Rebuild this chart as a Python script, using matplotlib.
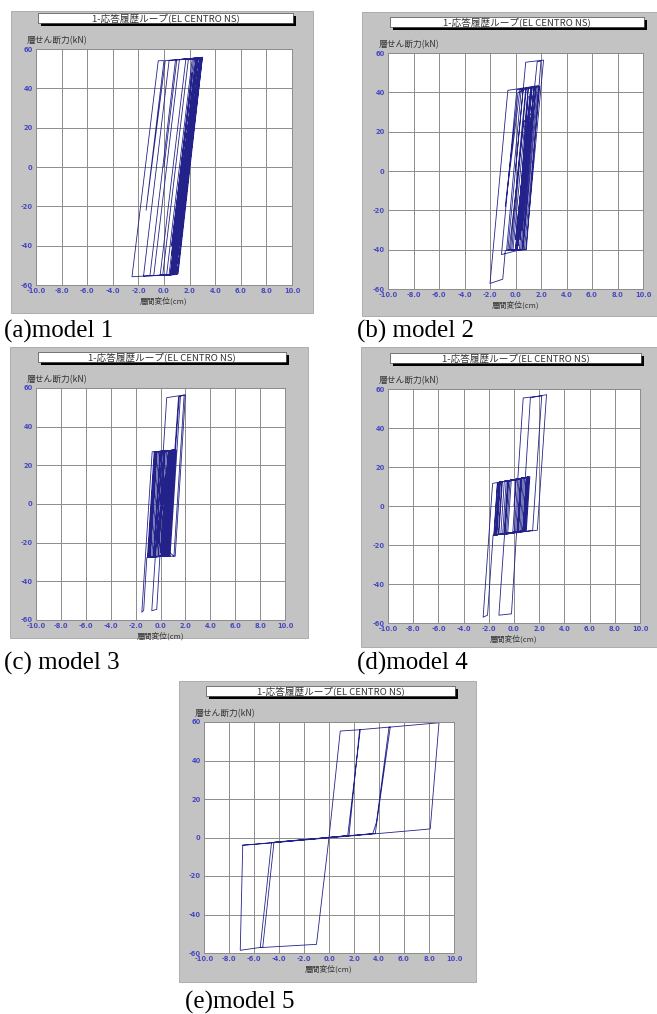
import numpy as np
import matplotlib
matplotlib.use("Agg")
import matplotlib.pyplot as plt
from matplotlib.patches import Rectangle

# ---- data: hysteresis loop turning points (displacement cm, shear kN) ----
# model 1
x1 = [0.0, 1.0, 3.0, 1.0, -2.5, -0.45, 0.0, -1.4, 0.1, 2.8, 0.8, -1.6, 0.4, 2.6, 0.6, -1.1,
      0.9, 2.9, 0.9, -0.3, 1.7, 2.7, 0.7, 0.2, 2.2, 2.5, 0.5, -0.8, 1.2, 3.0, 1.1, 0.6,
      2.6, 2.9, 0.9, 0.5, 2.5, 2.8, 0.8, 2.4, 1.0, 2.7, 1.3, 2.85, 0.7, -0.1, 1.9, 2.3,
      0.6, 2.2, 0.6, 2.5, 1.2, 2.8, 0.9, 2.6, 1.0, 2.9, 1.1, 2.4, 1.7, 2.75, 0.95, 2.3,
      0.8, 0.4, 2.4, 2.65, 0.65, 2.1, 1.3, 2.55, 0.85, 2.45, 1.15, 2.95, 1.05]
y1 = [0.0, 54.5, 55.8, -54.5, -55.8, 54.0, 54.1, -22.0, 54.1, 55.5, -54.8, -55.5, 54.2, 55.2, -54.8, -55.3,
      54.5, 55.6, -54.6, -55.0, 54.5, 55.4, -54.7, -55.0, 54.6, 55.0, -54.8, -55.2, 54.5, 55.7, -54.3, -54.6,
      55.0, 55.5, -54.5, -54.7, 55.0, 55.4, -54.6, 35.0, -42.0, 48.0, -38.0, 50.0, -54.6, -55.0, 54.5, 54.8,
      -40.0, 48.0, -45.0, 52.0, -30.0, 55.5, -54.5, 45.0, -45.0, 54.8, -52.0, 30.0, -10.0, 50.0, -50.0, 30.0,
      -54.0, -54.5, 54.9, 55.1, -54.6, 20.0, -25.0, 52.0, -40.0, 45.0, -35.0, 55.4, -54.4]

# model 2
x2 = [0.0, 0.6, 0.8, 2.2, 0.8, -0.8, -1.0, -2.0, -0.6, 1.8, 0.6, -0.4, 0.8, 1.5, 1.7, 2.0,
      0.85, -0.2, 1.0, 1.6, 0.5, -1.1, 0.1, 1.2, 0.0, -0.6, 0.6, 1.6, 0.4, 0.0, 1.2, 1.9,
      0.7, 0.3, 1.45, 0.6, 1.3, 0.35, 1.1, 0.2, 1.4, 0.5, 1.5, 0.35, -0.8, 0.2, 1.0, 0.1,
      1.3, 0.15, -0.7, 0.45, 1.7, 0.55, -0.3, 0.85, 1.25, 0.1, -0.5, 0.65, 1.35, 0.2, 0.9,
      0.0, 1.15, 0.3, 1.0, 0.05]
y2 = [0.0, 41.0, 55.3, 56.4, -40.0, -40.5, -55.0, -57.2, 41.0, 43.4, -40.0, -40.3, 42.0, 42.8, 55.5, 56.0,
      -40.0, -40.2, 42.3, 43.0, -39.8, -42.5, 41.2, 42.5, -39.9, -40.2, 41.8, 42.8, -40.0, -40.1, 42.3, 43.0,
      -39.8, -40.0, 42.5, -20.0, 30.0, -35.0, 25.0, -38.0, 40.0, -30.0, 42.6, 41.5, -18.0, 40.0, 42.0, -39.0,
      42.4, -40.0, -40.3, 41.6, 43.1, -39.9, -40.2, 42.0, 42.4, -40.0, -40.2, 25.0, 30.0, -38.0, 20.0,
      -35.0, 35.0, -25.0, 38.0, -39.5]

# model 3
x3 = [0.0, 0.27, 1.2, 0.66, -1.0, -0.46, 0.9, 0.36, -0.8, -0.26, 1.0, 0.46, -0.6, -0.06, 0.7, 0.16,
      -1.1, -1.35, -1.5, -0.67, 0.4, -0.14, -0.9, -0.36, 0.8, 0.26, -0.05, -0.3, -0.7, 0.13, 0.22, 0.5,
      2.0, 1.18, 0.2, 0.74, 1.2, 1.5, 1.6, 0.77, -0.5, 0.04, 1.1, 0.56, -0.7, -0.16, 0.6, 0.06,
      -0.95, -0.41, 0.95, 0.41, -0.3, 0.24, 1.15, 0.61, -0.2, 0.34, 0.85, 0.31, -0.55, -0.01, 1.05, 0.51,
      -0.85, -0.31, 0.5, -0.04, -1.05, -0.51, 0.65, 0.11, -0.4, 0.14, 1.25, 0.71, 0.3, 0.84, 1.15, 1.45,
      1.9, 1.08, -0.2, 0.3, -0.3, 0.4, -0.25, 0.55, 0.0, 0.75, 0.2, 1.0, 0.46]
y3 = [0.0, 27.0, 28.0, -27.0, -27.5, 27.0, 27.8, -27.0, -27.3, 27.0, 27.9, -27.0, -27.2, 27.0, 27.6, -27.0,
      -27.8, -55.0, -56.0, 27.0, 27.5, -27.0, -27.4, 27.0, 27.7, -27.0, -27.1, -54.5, -55.2, 27.0, 27.1, 55.0,
      56.5, -27.0, -27.0, 27.0, 27.8, 55.5, 55.7, -27.0, -27.3, 27.0, 27.9, -27.0, -27.4, 27.0, 27.5, -27.0,
      -27.5, 27.0, 27.8, -27.0, -27.2, 27.0, 28.0, -27.0, -27.1, 27.0, 27.7, -27.0, -27.3, 27.0, 27.9, -27.0,
      -27.4, 27.0, 27.5, -27.0, -27.6, 27.0, 27.6, -27.0, -27.2, 27.0, 28.0, -27.0, -27.0, 27.0, 27.9, 55.4,
      56.3, -27.0, -20.0, 10.0, -18.0, 15.0, -22.0, 20.0, -25.0, 22.0, -24.0, 26.0, -27.0]

# model 4
x4 = [0.0, 0.15, 1.26, 0.98, -1.6, -1.32, 1.05, 0.77, -1.25, -0.97, 0.85, 0.57, -1.66, -2.1, -2.45, -1.7,
      0.3, 0.73, 2.2, 1.48, -0.5, -0.22, 1.2, 0.92, 0.2, -0.2, -1.2, -0.45, 0.9, 1.3, 2.58, 1.85,
      -1.4, -1.12, 0.6, 0.32, -0.9, -0.62, 0.4, 0.12, -1.5, -1.22, 1.1, 0.82, -0.7, -0.42, 0.5, 0.22,
      -1.05, -0.77, 0.75, 0.47, -1.35, -1.07, 0.95, 0.67, -0.6, -0.32, 1.15, 0.87, -1.58, -1.3, 0.3,
      0.02, -0.8, -0.52, 0.65, 0.37, -1.2, -0.92, 1.0, 0.72, -0.1, 0.18, 0.55, 0.27, -1.45, -1.17, 0.1]
y4 = [0.0, 13.7, 15.0, -12.5, -15.0, 12.0, 14.8, -12.7, -14.6, 12.4, 14.5, -12.9, -15.0, -56.0, -57.0, 11.6,
      13.8, 55.4, 56.5, -12.5, -14.3, 12.9, 14.9, -12.6, -13.8, -55.3, -56.0, 13.0, 14.6, 55.5, 57.1, -12.4,
      -14.8, 12.2, 14.2, -13.1, -14.4, 12.7, 13.9, -13.3, -14.9, 12.1, 14.8, -12.6, -14.5, 12.8, 14.0, -13.2,
      -14.6, 12.5, 14.3, -13.0, -14.8, 12.3, 14.6, -12.8, -14.4, 12.9, 14.9, -12.6, -15.0, 12.0, 13.8,
      -13.4, -14.5, 12.7, 14.2, -13.1, -14.7, 12.4, 14.7, -12.7, -13.9, 13.3, 14.1, -13.2, -14.8, 12.2, 13.6]

# model 5
x5 = [0.0, 0.9, 2.5, 1.5, 0.0, -1.0, -5.5, -4.6, 1.6, 2.45, 4.9, 3.7, -4.4, -5.3, -5.6, -7.1,
      -6.9, 3.5, 3.8, 4.8, 8.8, 8.1, 7.7, -6.0, -6.9]
y5 = [0.0, 55.3, 56.0, 1.0, 0.0, -55.5, -57.2, -2.7, 1.0, 56.0, 57.4, 2.1, -2.4, -57.0, -57.2, -58.6,
      -4.0, 2.0, 8.0, 57.3, 59.6, 4.5, 4.2, -3.6, -4.0]

x_ticks = [-10.0, -8.0, -6.0, -4.0, -2.0, 0.0, 2.0, 4.0, 6.0, 8.0, 10.0]
y_ticks = [-60, -40, -20, 0, 20, 40, 60]

captions = ["(a)model 1", "(b) model 2", "(c) model 3", "(d)model 4", "(e)model 5"]
chart_title = "1-応答履歴ループ(EL CENTRO NS)"
ylab = "層せん断力(kN)"
xlab = "層間変位(cm)"

W, H = 657, 1014
jp = ["Noto Sans CJK JP", "DejaVu Sans"]


def fx(x):
    return x / W


def fy(y):
    return 1 - y / H


def box(x0, y0, x1, y1, **kw):
    r = Rectangle((fx(x0), fy(y1)), (x1 - x0) / W, (y1 - y0) / H, **kw)
    fig.add_artist(r)


def draw_panel(gray, axbox, xs, ys, caption, cap_xy):
    box(*gray, facecolor="#c3c3c3", edgecolor="#a5a5a5", lw=0.6, zorder=-5)
    a0, b0, a1, b1 = axbox
    ax = fig.add_axes([fx(a0), fy(b1), (a1 - a0) / W, (b1 - b0) / H])
    ax.plot(xs, ys, color="#22228a", lw=0.6)
    ax.set_xlim(-10, 10)
    ax.set_ylim(-60, 60)
    ax.set_xticks(x_ticks)
    ax.set_xticklabels(["%.1f" % v for v in x_ticks])
    ax.set_yticks(y_ticks)
    ax.set_yticklabels([str(v) for v in y_ticks])
    ax.tick_params(length=0, labelsize=4.8, labelcolor="#4848c0", pad=2.5)
    for lab in ax.get_xticklabels() + ax.get_yticklabels():
        lab.set_fontweight("bold")
    ax.grid(True, color="#8c8c8c", lw=0.7)
    for s in ax.spines.values():
        s.set_color("#8c8c8c")
        s.set_linewidth(0.7)

    # title bar with black shadow
    t0, t1 = a0 + 2, a1 + 1
    u0, u1 = b0 - 36, b0 - 26
    box(t0 + 3, u0 + 3, t1 + 3, u1 + 3, facecolor="black", edgecolor="none", zorder=2)
    box(t0, u0, t1, u1, facecolor="white", edgecolor="#222222", lw=0.4, zorder=3)
    fig.text(fx((t0 + t1) / 2), fy((u0 + u1) / 2), chart_title, family=jp, fontsize=6.9,
             color="#333333", ha="center", va="center", zorder=4)

    fig.text(fx(a0 - 9), fy(b0 - 8), ylab, family=jp, fontsize=6.3, color="#333333",
             ha="left", va="center")
    fig.text(fx((a0 + a1) / 2), fy(b1 + 16), xlab, family=jp, fontsize=5.6, color="#333333",
             ha="center", va="center")
    fig.text(fx(cap_xy[0]), fy(cap_xy[1]), caption, family="Liberation Serif", fontsize=18,
             ha="left", va="center")


fig = plt.figure(figsize=(6.57, 10.14), dpi=100)
fig.patch.set_facecolor("white")

draw_panel((11, 11, 313, 313), (36, 49, 292, 285), x1, y1, captions[0], (4, 331))
draw_panel((362, 12, 657, 316), (388, 53, 643, 289), x2, y2, captions[1], (357, 331))
draw_panel((10, 347, 308, 638), (36, 388, 285, 620), x3, y3, captions[2], (4, 663))
draw_panel((361, 347, 657, 647), (388, 389, 640, 623), x4, y4, captions[3], (357, 663))
draw_panel((179, 681, 476, 982), (204, 722, 454, 953), x5, y5, captions[4], (185, 1002))

fig.savefig("out.png", dpi=100)
